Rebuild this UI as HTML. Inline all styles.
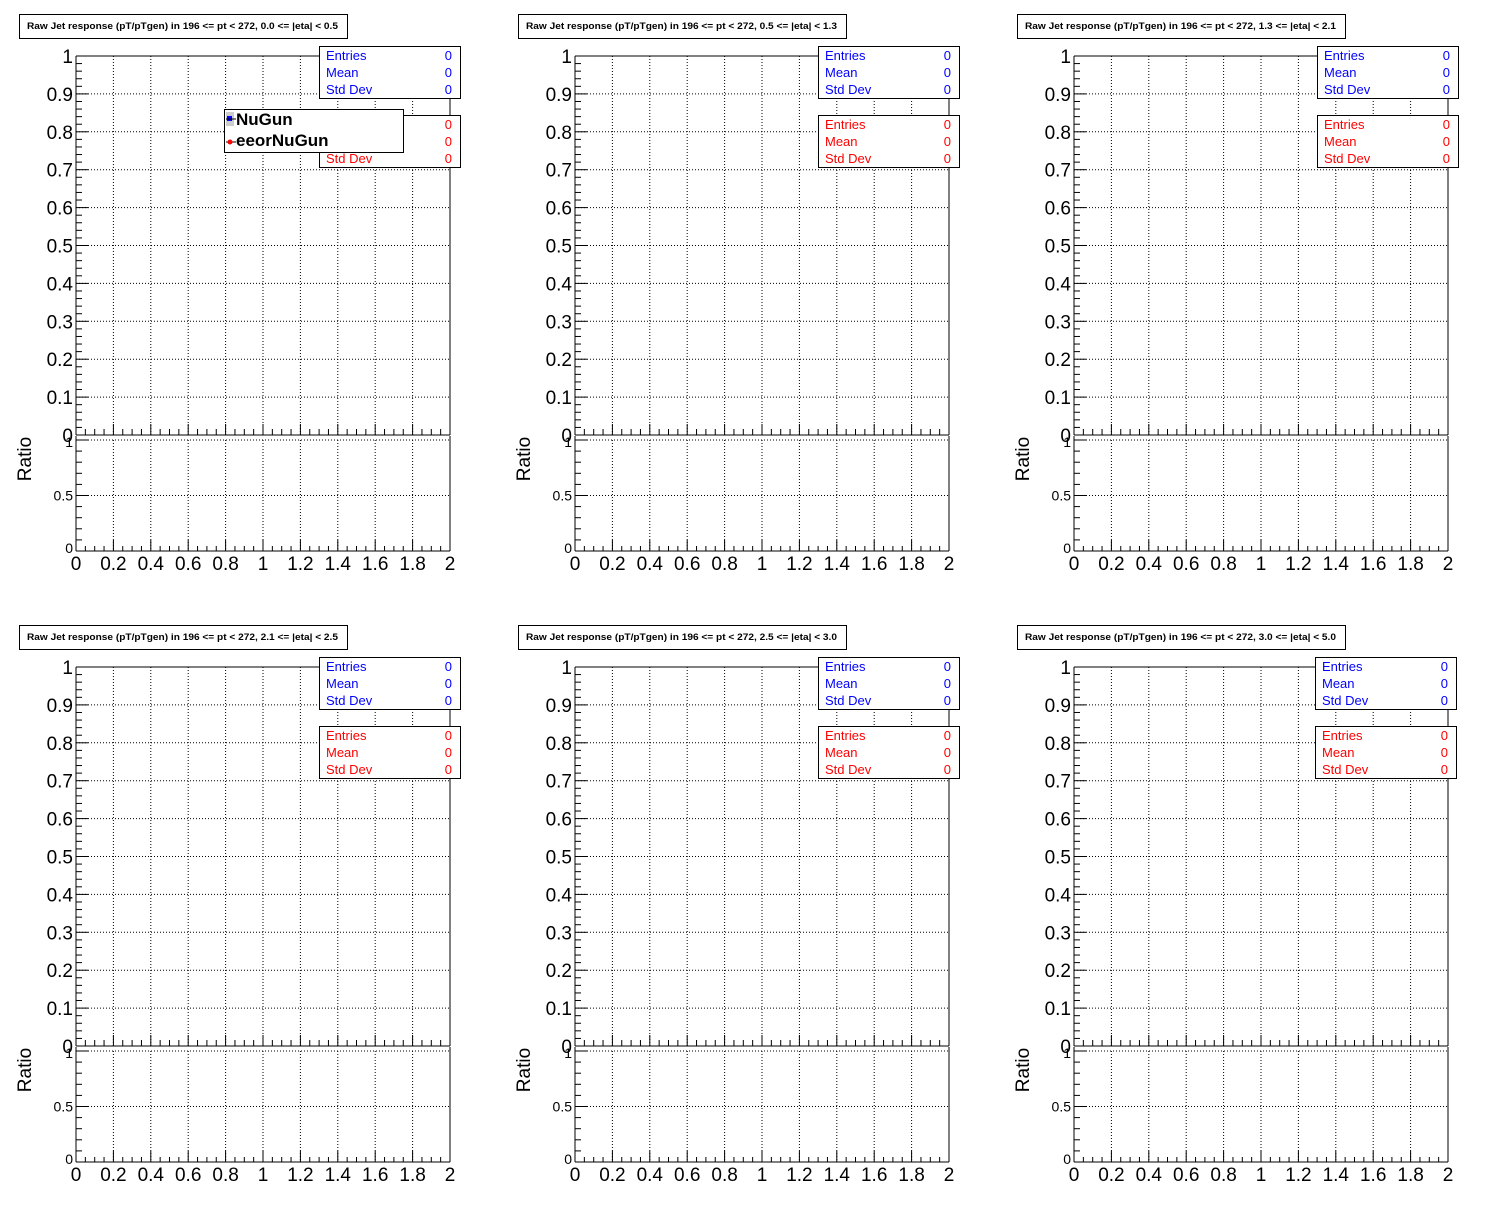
<!DOCTYPE html>
<html><head><meta charset="utf-8"><style>
html,body{margin:0;background:#fff;width:1496px;height:1222px;overflow:hidden}
svg{display:block}
text{font-family:"Liberation Sans",sans-serif}
</style></head><body>
<svg id="s" width="1496" height="1222" xmlns="http://www.w3.org/2000/svg"></svg>
<script>
const etas=["0.0 <= |eta| < 0.5","0.5 <= |eta| < 1.3","1.3 <= |eta| < 2.1","2.1 <= |eta| < 2.5","2.5 <= |eta| < 3.0","3.0 <= |eta| < 5.0"];
let h='';
function L(x1,y1,x2,y2,extra){h+=`<line x1="${x1}" y1="${y1}" x2="${x2}" y2="${y2}" stroke="#000" stroke-width="1" ${extra||''}/>`;}
function T(x,y,s,size,anchor,extra){h+=`<text x="${x}" y="${y}" font-size="${size}" text-anchor="${anchor||'start'}" ${extra||''}>${s}</text>`;}
for(let p=0;p<6;p++){
 const ox=(p%3)*499, oy=Math.floor(p/3)*611;
 const X0=ox+76, X1=ox+450, W=X1-X0;
 const Yt=oy+56, Yb=oy+435, R1=oy+440, R0=oy+551;
 const dot='stroke-dasharray="1,2"';
 h+=`<rect x="${ox+19.5}" y="${oy+14.5}" width="328" height="24" fill="#fff" stroke="#000"/>`;
 T(ox+27,oy+29,`Raw Jet response (pT/pTgen) in 196 &lt;= pt &lt; 272, ${etas[p].replace(/</g,'&lt;')}`,9,'start',`font-weight="bold" textLength="311" lengthAdjust="spacingAndGlyphs"`);
 for(let i=1;i<10;i++){const x=X0+W*i/10;L(x,Yt,x,Yb,dot);}
 for(let i=1;i<10;i++){const y=Yb-(Yb-Yt)*i/10;L(X0,y,X1,y,dot);}
 for(let i=1;i<10;i++){const x=X0+W*i/10;L(x,R1,x,R0,dot);}
 L(X0,R1,X1,R1,dot);L(X0,(R1+R0)/2,X1,(R1+R0)/2,dot);
 L(X0,Yt,X1,Yt);L(X0,Yt,X0,Yb);L(X1,Yt,X1,Yb);L(X0,Yb,X1,Yb,'stroke-width="1.5"');
 L(X0,R1-4,X0,R0);L(X1,R1-4,X1,R0);L(X0,R0,X1,R0);
 for(let i=0;i<=50;i++){const y=Yb-(Yb-Yt)*i/50;L(X0,y,X0+(i%5==0?12:6),y);}
 for(let i=0;i<=10;i++){const y=Yb-(Yb-Yt)*i/10;const lab=i==10?'1':(i==0?'0':'0.'+i);T(X0-3,y+7,lab,19,'end');}
 for(let i=0;i<=40;i++){const x=X0+W*i/40;L(x,Yb,x,Yb-(i%4==0?11:6));}
 for(let i=0;i<=10;i++){const y=R0-(R0-R1)*i/10;L(X0,y,X0+(i%5==0?12:6),y);}
 T(X0-3,R1+7,'1',14,'end');T(X0-3,(R1+R0)/2+5,'0.5',14,'end');T(X0-3,R0+2,'0',14,'end');
 for(let i=0;i<=40;i++){const x=X0+W*i/40;L(x,R0,x,R0-(i%4==0?11:5));}
 for(let i=0;i<=10;i++){const x=X0+W*i/10;const v=i*0.2;const lab=(i==0?'0':(i==5?'1':(i==10?'2':v.toFixed(1))));T(x,R0+19,lab,19,'middle');}
 h+=`<text x="${ox+31}" y="${oy+459}" font-size="19" text-anchor="middle" transform="rotate(-90 ${ox+31} ${oy+459})">Ratio</text>`;
 if(p==5){T(ox+312,oy+668,'n',13,'start','fill="#0000ff"');T(ox+457,oy+668,'0',13,'start','fill="#0000ff"');T(ox+312,oy+737,'n',13,'start','fill="#ff0000"');T(ox+457,oy+737,'0',13,'start','fill="#ff0000"');}
 [[46,'#0000ff'],[115,'#ff0000']].forEach(([by,c])=>{
  const bx = p==5? ox+317: ox+319;
  h+=`<rect x="${bx+0.5}" y="${oy+by+0.5}" width="141" height="52" fill="#fff" stroke="#000"/>`;
  ['Entries','Mean','Std Dev'].forEach((n,k)=>{T(bx+7,oy+by+14+17*k,n,13,'start',`fill="${c}"`);T(bx+133,oy+by+14+17*k,'0',13,'end',`fill="${c}"`);});
 });
 if(p==0){
  h+=`<rect x="224.5" y="109.5" width="179" height="43" fill="#fff" stroke="#000"/>`;
  h+=`<rect x="226" y="112" width="8" height="14" fill="#ccc"/><rect x="227" y="116" width="5" height="5" fill="#0000ff"/><line x1="226" y1="119" x2="236" y2="119" stroke="#000"/>`;
  h+=`<line x1="226" y1="142" x2="236" y2="142" stroke="#000"/><circle cx="230" cy="142" r="2.5" fill="#ff0000"/>`;
  T(236,125,'NuGun',17,'start','font-weight="bold"');T(236,146,'eeorNuGun',17,'start','font-weight="bold"');
 }
}
document.getElementById('s').innerHTML=h;
</script>
</body></html>
